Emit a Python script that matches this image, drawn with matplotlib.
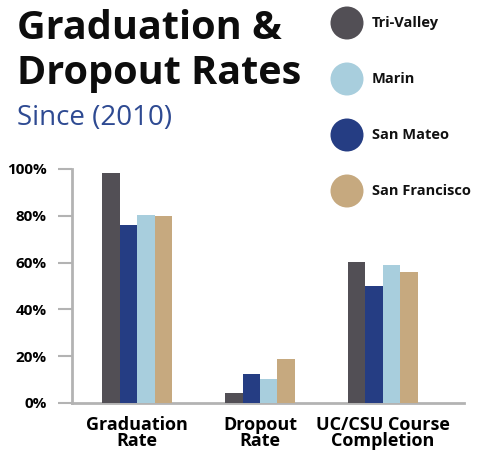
import matplotlib.pyplot as plt
import numpy as np

# data
categories = ['Graduation\nRate', 'Dropout\nRate', 'UC/CSU Course\nCompletion']
bar_order = ['Tri-Valley', 'San Mateo', 'Marin', 'San Francisco']
legend_order = ['Tri-Valley', 'Marin', 'San Mateo', 'San Francisco']
values = {
    'Tri-Valley':    [98.5, 4.3, 60.2],
    'San Mateo':     [76.0, 12.4, 50.0],
    'Marin':         [80.2, 10.3, 59.0],
    'San Francisco': [80.0, 18.8, 56.0],
}
y_ticks = [0, 20, 40, 60, 80, 100]
y_tick_labels = ['0%', '20%', '40%', '60%', '80%', '100%']

colors = {
    'Tri-Valley': '#524f55',
    'San Mateo': '#253d83',
    'Marin': '#a8cedd',
    'San Francisco': '#c6a97f',
}
axis_gray = '#b3b3b3'
title_color = '#0d0d0d'
sub_color = '#2e4a92'
font = 'Open Sans'

W, H = 479, 451
fig = plt.figure(figsize=(W / 100, H / 100), dpi=100, facecolor='white')

# ── bars ───────────────────────────────────────
ax = fig.add_axes([72 / W, 1 - 403 / H, (464 - 72) / W, (403 - 169) / H])
ax.patch.set_visible(False)
x = np.arange(len(categories))
bw = 0.142
for i, name in enumerate(bar_order):
    ax.bar(x + (i - 1.5) * bw, values[name], width=bw, color=colors[name], zorder=3)

ax.set_xlim(-0.53, 2.66)
ax.set_ylim(0, 100)
ax.set_yticks(y_ticks)
ax.set_yticklabels(y_tick_labels, fontsize=11, fontweight='bold', family=font)
ax.set_xticks(x)
ax.set_xticklabels(categories, fontsize=13, fontweight='bold', family=font,
                   linespacing=0.92)
ax.tick_params(axis='y', length=10, width=1.5, color=axis_gray, pad=8)
ax.tick_params(axis='x', length=0, pad=9)
for s in ['top', 'right']:
    ax.spines[s].set_visible(False)
for s in ['left', 'bottom']:
    ax.spines[s].set_color(axis_gray)
    ax.spines[s].set_linewidth(2)

# ── titles ─────────────────────────────────────
fig.text(17 / W, 1 - 39 / H, 'Graduation &', fontsize=28.5, fontweight='bold',
         family=font, color=title_color, va='baseline', ha='left')
fig.text(17 / W, 1 - 84 / H, 'Dropout Rates', fontsize=28.5, fontweight='bold',
         family=font, color=title_color, va='baseline', ha='left')
fig.text(17 / W, 1 - 125 / H, 'Since (2010)', fontsize=20,
         family=font, color=sub_color, va='baseline', ha='left')

# ── legend (circles) ───────────────────────────
lax = fig.add_axes([0, 0, 1, 1], zorder=5)
lax.set_xlim(0, W)
lax.set_ylim(H, 0)
lax.axis('off')
for i, name in enumerate(legend_order):
    cy = 23 + 56 * i
    lax.scatter([347], [cy], s=(33 * 0.72) ** 2, color=colors[name], edgecolors='none')
    lax.text(372, cy, name, fontsize=10.5, fontweight='bold', family=font,
             color='#111111', va='center', ha='left')

fig.savefig('out.png', dpi=100, facecolor='white')
